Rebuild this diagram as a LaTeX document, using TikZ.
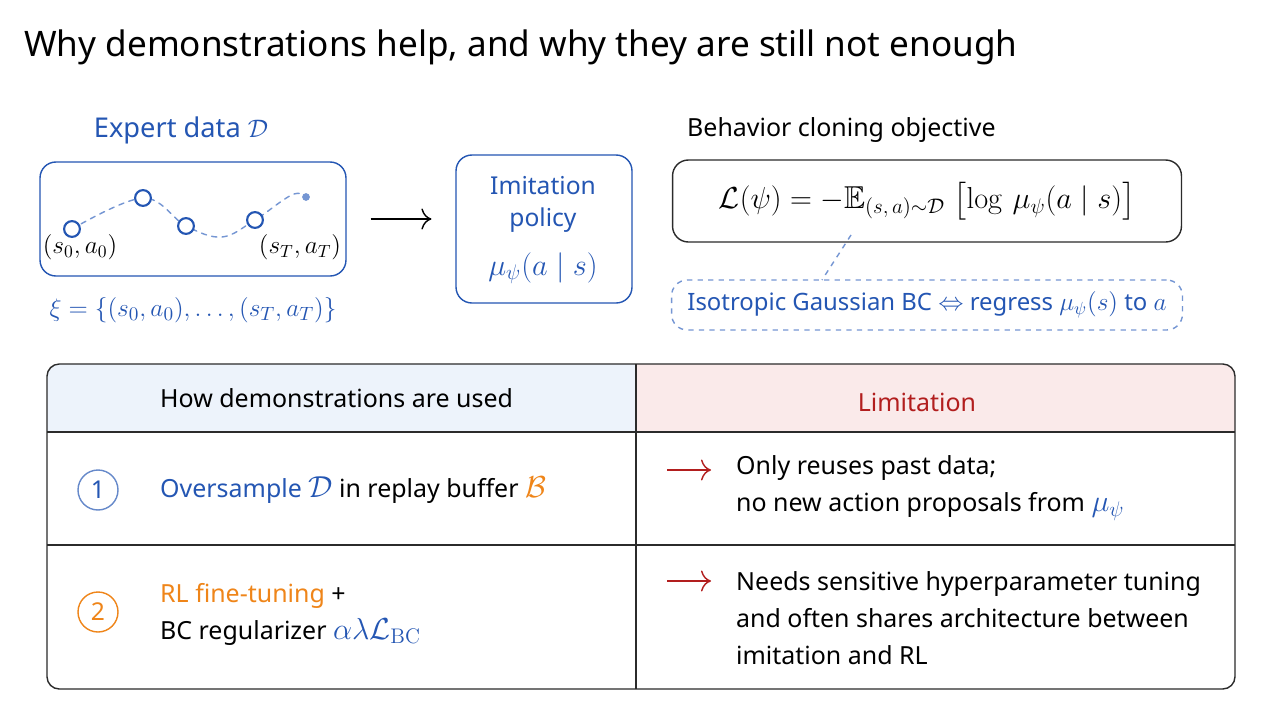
\documentclass[tikz,border=0pt]{standalone}
\usepackage[no-math]{fontspec}
\setmainfont{Noto Sans}
\usepackage{amsmath}
\usepackage{amssymb}
\usetikzlibrary{arrows.meta}

\definecolor{inkblue}{HTML}{2456B3}
\definecolor{lineblue}{HTML}{7596D3}
\definecolor{inkorange}{HTML}{EF8519}
\definecolor{inkred}{HTML}{B21E1E}
\definecolor{headblue}{HTML}{EDF3FB}
\definecolor{headpink}{HTML}{FAEAEA}
\definecolor{rule}{HTML}{2B2B2B}

% bigger math inside the row texts
\newcommand{\rowmath}[1]{{\fontsize{17}{21}\selectfont$#1$}}

\tikzset{
  bluebox/.style={draw=inkblue, thick, rounded corners=9pt},
  trajpt/.style={circle, draw=inkblue, very thick, fill=white, inner sep=0pt, minimum size=9pt},
  numring/.style={circle, thick, inner sep=0pt, minimum size=0.8cm, font=\fontsize{14}{16}\selectfont},
  bodytext/.style={anchor=west, align=left, font=\fontsize{14.2}{21}\selectfont},
  redarrow/.style={-{To[scale=1.7]}, inkred, thick},
}

\begin{document}
\begin{tikzpicture}[x=0.02cm, y=-0.02cm, font=\fontsize{14.2}{17}\selectfont]
\useasboundingbox[fill=white] (0,0) rectangle (1280,720);
% Title
\node[anchor=west, font=\fontsize{20}{24}\selectfont] (title) at (18,47) {Why demonstrations help, and why they are still not enough};
% Expert data panel
\node[text=inkblue, font=\fontsize{15.5}{18}\selectfont] (exptitle) at (181,130) {Expert data $\mathcal{D}$};
\node[bluebox, minimum width=6.12cm, minimum height=2.28cm] (expbox) at (193,219) {};
\draw[lineblue, thick, dashed, line cap=round] plot[smooth, tension=0.6] coordinates {(72,229) (143,198) (186,226) (222,237) (255,220) (294,194) (312,200)};
\fill[lineblue] (306,197) circle (2.2pt);
\foreach \px/\py [count=\k] in {72/229, 143/198, 186/226, 255/220} {
    \node[trajpt] (pt\k) at (\px,\py) {};
}
\node[font=\fontsize{13.8}{16}\selectfont] (startlbl) at (80,247) {$(s_0, a_0)$};
\node[font=\fontsize{13.8}{16}\selectfont] (endlbl) at (300,247) {$(s_T, a_T)$};
\node[text=inkblue, font=\fontsize{15.7}{18}\selectfont] (xi) at (193,310) {$\xi = \{(s_0, a_0), \ldots, (s_T, a_T)\}$};
% Imitation policy
\node[bluebox, minimum width=3.52cm, minimum height=2.96cm] (policy) at (544,229) {};
\node[text=inkblue, font=\fontsize{14}{16}\selectfont] (poltxtA) at (543,186) {Imitation};
\node[text=inkblue, font=\fontsize{14}{16}\selectfont] (poltxtB) at (543,220) {policy};
\node[text=inkblue, font=\fontsize{18.5}{22}\selectfont] (poltxtC) at (543,268) {$\mu_\psi(a \mid s)$};
\draw[-{To[scale=1.7]}, thick, shorten <=13.6pt, shorten >=13.6pt] (expbox.east) -- (expbox.east -| policy.west);
% Behavior cloning objective
\node[anchor=west] (objtitle) at (681,130) {Behavior cloning objective};
\node[draw=rule, thick, rounded corners=9pt, minimum width=10.18cm, minimum height=1.64cm, font=\fontsize{18}{21}\selectfont] (objbox) at (927,201)
    {$\mathcal{L}(\psi) = -\mathbb{E}_{(s,\,a)\sim\mathcal{D}}\;\bigl[\log\,\mu_\psi(a \mid s)\bigr]$};
\node[draw=lineblue, thick, dashed, rounded corners=9pt, minimum width=10.22cm, minimum height=1cm, text=inkblue, font=\fontsize{13.6}{16}\selectfont] (note) at (927,305)
    {Isotropic Gaussian BC $\Leftrightarrow$ regress $\mu_\psi(s)$ to $a$};
\coordinate (tagA) at (851,235);
\coordinate (tagB) at (822,280);
\draw[lineblue, thick, dashed] (tagA) -- (tagB);
% Table: header fills
\begin{scope}
  \clip[rounded corners=7pt] (47,364) rectangle (1235,689);
  \fill[headblue] (47,364) rectangle (636,432);
  \fill[headpink] (636,364) rectangle (1235,432);
\end{scope}
\draw[rule, thick, rounded corners=7pt] (47,364) rectangle (1235,689);
\draw[rule, thick] (47,432) -- (1235,432);
\draw[rule, thick] (47,545) -- (1235,545);
\draw[rule, thick] (636,364) -- (636,689);
% Header labels
\node[anchor=west] (headL) at (154,398) {How demonstrations are used};
\node[text=inkred] (headR) at (917,402) {Limitation};
% Row 1
\node[numring, draw=inkblue!70, text=inkblue] (num1) at (98,490) {1};
\node[bodytext] (use1) at (154,490) {\textcolor{inkblue}{Oversample \rowmath{\mathcal{D}}} in replay buffer \textcolor{inkorange}{\rowmath{\mathcal{B}}}};
\coordinate (arr1s) at (667,470);
\coordinate (arr1e) at (711,470);
\draw[redarrow] (arr1s) -- (arr1e);
\node[bodytext] (lim1) at (730,488) {Only reuses past data;\\no new action proposals from \textcolor{inkblue}{\rowmath{\mu_\psi}}};
% Row 2
\node[numring, draw=inkorange, text=inkorange] (num2) at (98,612) {2};
\node[bodytext] (use2) at (154,614) {\textcolor{inkorange}{RL fine-tuning} +\\BC regularizer \textcolor{inkblue}{\rowmath{\alpha\lambda\mathcal{L}_{\mathrm{BC}}}}};
\coordinate (arr2s) at (667,581);
\coordinate (arr2e) at (711,581);
\draw[redarrow] (arr2s) -- (arr2e);
\node[bodytext] (lim2) at (730,618) {Needs sensitive hyperparameter tuning\\and often shares architecture between\\imitation and RL};
\end{tikzpicture}
\end{document}
